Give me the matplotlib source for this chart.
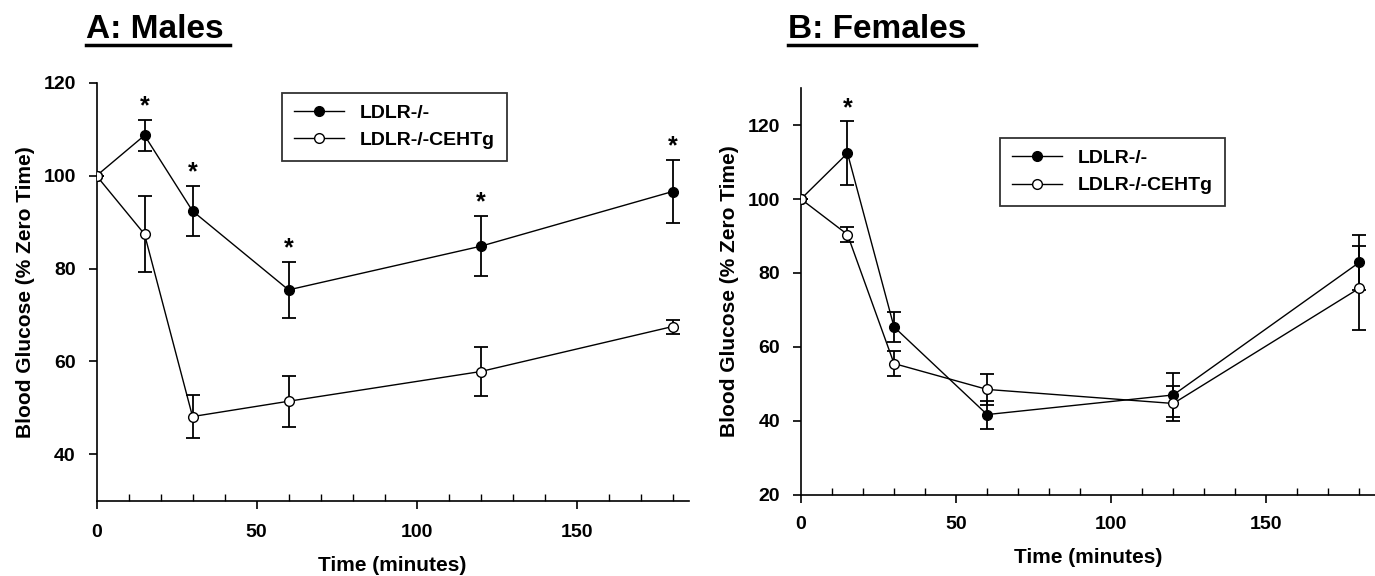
import matplotlib.pyplot as plt
from matplotlib.lines import Line2D
import numpy as np

plt.rcParams['font.family'] = ['Liberation Sans', 'DejaVu Sans']
plt.rcParams['font.weight'] = 'bold'

time = [0, 15, 30, 60, 120, 180]

# A: males
male_ko = [100, 108.7, 92.4, 75.4, 84.8, 96.6]
male_ko_err = [0, 3.3, 5.4, 6.0, 6.5, 6.8]
male_tg = [100, 87.4, 48.1, 51.4, 57.8, 67.5]
male_tg_err = [0, 8.2, 4.7, 5.5, 5.2, 1.5]
male_sig = [15, 30, 60, 120, 180]

# B: females
fem_ko = [100, 112.4, 65.4, 41.7, 47.0, 82.9]
fem_ko_err = [0, 8.6, 4.0, 3.8, 6.0, 7.4]
fem_tg = [100, 90.4, 55.5, 48.5, 44.7, 75.9]
fem_tg_err = [0, 2.0, 3.5, 4.2, 4.7, 11.3]
fem_sig = [15]

labels = ['LDLR-/-', 'LDLR-/-CEHTg']


def panel(ax, ko, ko_err, tg, tg_err, sig, ylim, yticks, legend_pos, xpad, lpad):
    ax.errorbar(time, ko, yerr=ko_err, color='black', marker='o', ms=7,
                mfc='black', mec='black', lw=1, elinewidth=1.3, capsize=5,
                capthick=1.3, zorder=3)
    ax.errorbar(time, tg, yerr=tg_err, color='black', marker='o', ms=7,
                mfc='white', mec='black', lw=1, elinewidth=1.3, capsize=5,
                capthick=1.3, zorder=3)
    for t in sig:
        i = time.index(t)
        ax.text(t, ko[i] + ko_err[i] + 0.3, '*', ha='center', va='bottom',
                fontsize=18, fontweight='bold')
    ax.set_xlim(0, 185)
    ax.set_ylim(*ylim)
    ax.set_xticks([0, 50, 100, 150])
    ax.set_xticks(np.arange(10, 185, 10), minor=True)
    ax.set_yticks(yticks)
    ax.spines['top'].set_visible(False)
    ax.spines['right'].set_visible(False)
    ax.spines['left'].set_linewidth(1.2)
    ax.spines['bottom'].set_linewidth(1.2)
    ax.tick_params(axis='both', which='major', labelsize=14, length=6,
                   width=1.2, direction='out')
    ax.tick_params(axis='x', which='major', pad=xpad)
    ax.tick_params(axis='x', which='minor', length=5, width=1, direction='in')
    ax.tick_params(axis='y', pad=9)
    for lab in ax.get_xticklabels() + ax.get_yticklabels():
        lab.set_fontweight('bold')
    ax.set_xlabel('Time (minutes)', fontsize=15, fontweight='bold', labelpad=lpad)
    ax.set_ylabel('Blood Glucose (% Zero Time)', fontsize=15,
                  fontweight='bold', labelpad=6)
    handles = [
        Line2D([], [], color='black', lw=1, marker='o', ms=7, mfc='black', mec='black'),
        Line2D([], [], color='black', lw=1, marker='o', ms=7, mfc='white', mec='black'),
    ]
    leg = ax.legend(handles, labels, loc='upper left', bbox_to_anchor=legend_pos,
                    fontsize=14, frameon=True, fancybox=False, edgecolor='black',
                    handlelength=2.6, borderpad=0.6, labelspacing=0.5,
                    handletextpad=0.8)
    leg.get_frame().set_linewidth(1.3)
    for txt in leg.get_texts():
        txt.set_fontweight('bold')


fig = plt.figure(figsize=(13.75, 5.76), dpi=100)
ax1 = fig.add_axes([0.0702, 0.131, 0.4306, 0.725])
ax2 = fig.add_axes([0.5825, 0.141, 0.4175, 0.706])

panel(ax1, male_ko, male_ko_err, male_tg, male_tg_err, male_sig,
      (30, 120), [40, 60, 80, 100, 120], (0.297, 1.0), 11, 10.5)
panel(ax2, fem_ko, fem_ko_err, fem_tg, fem_tg_err, fem_sig,
      (20, 130), [20, 40, 60, 80, 100, 120], (0.33, 0.902), 9, 11)

fig.text(0.0625, 0.934, 'A: Males', fontsize=24, fontweight='bold', va='baseline')
fig.text(0.573, 0.934, 'B: Females', fontsize=24, fontweight='bold', va='baseline')
fig.add_artist(Line2D([0.0625, 0.1675], [0.922, 0.922], color='black', lw=2.5))
fig.add_artist(Line2D([0.573, 0.710], [0.922, 0.922], color='black', lw=2.5))

fig.savefig('out.png', dpi=100)
